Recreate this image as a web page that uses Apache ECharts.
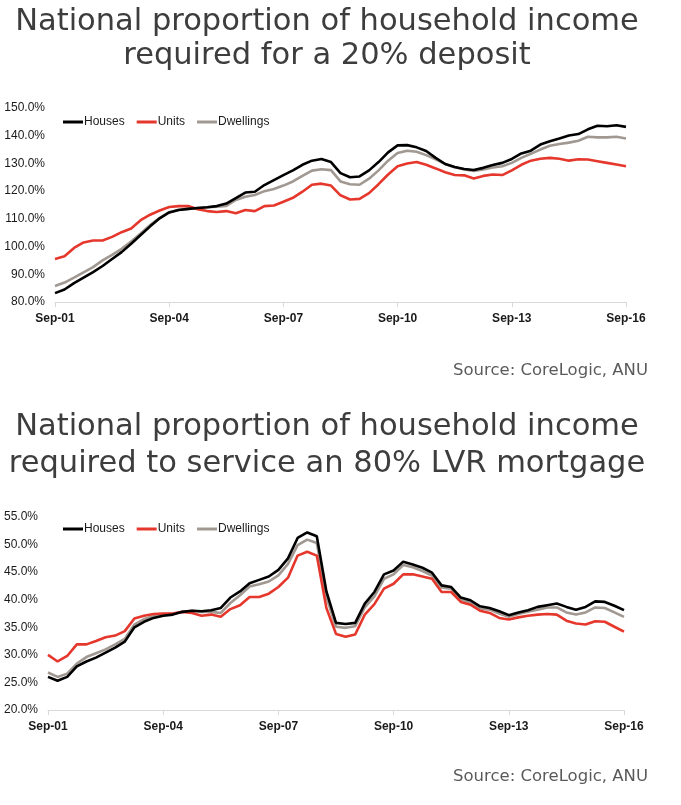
<!DOCTYPE html>
<html><head><meta charset="utf-8">
<script src="https://cdn.jsdelivr.net/npm/echarts@6/dist/echarts.min.js"></script>
<style>html,body{margin:0;padding:0;background:#fff}#c{width:681px;height:805px}</style>
</head><body><div id="c"></div>
<script>
// Quarterly categories Sep-01 .. Sep-16
const quarters = ['Sep','Dec','Mar','Jun'];
const categories = [];
(function(){ let y=1, q=0; for(let i=0;i<61;i++){ categories.push(quarters[q]+'-'+String(y).padStart(2,'0')); q++; if(q===4){q=0;} if(q===2){y++;} } })();

const seriesNames = ['Houses','Units','Dwellings'];

// Chart 1: proportion of household income required for a 20% deposit (%)
const depositHouses = [83.2,84.5,86.8,88.8,90.8,93.0,95.5,98.0,101.0,104.2,107.3,110.2,112.3,113.2,113.6,113.9,114.2,114.6,115.5,117.5,119.5,119.8,122.2,124.0,125.8,127.5,129.5,131.0,131.6,130.5,126.5,125.0,125.3,127.5,130.5,134.0,136.5,136.6,135.8,134.5,132.0,129.8,128.7,128.0,127.6,128.4,129.4,130.2,131.6,133.6,134.6,136.8,138.0,139.0,140.1,140.6,142.3,143.6,143.4,143.8,143.2];
const depositUnits = [95.5,96.5,99.5,101.5,102.2,102.2,103.5,105.2,106.5,109.5,111.5,113.0,114.3,114.6,114.6,113.5,112.8,112.5,112.8,112.0,113.2,112.8,114.6,114.8,116.2,117.6,119.8,122.3,122.7,122.0,118.5,117.0,117.2,119.3,122.5,126.0,129.0,130.0,130.5,129.5,128.2,126.8,125.8,125.7,124.6,125.5,126.0,125.8,127.5,129.5,131.0,131.7,132.0,131.7,131.0,131.5,131.4,130.8,130.2,129.6,129.0];
const depositDwellings = [85.8,87.0,88.8,90.7,92.6,95.0,97.0,99.2,101.8,104.7,107.8,110.4,112.4,113.3,113.6,113.9,114.2,114.4,114.7,116.8,118.0,118.6,120.0,120.8,122.0,123.5,125.5,127.4,127.9,127.6,123.5,122.5,122.3,124.5,127.5,131.0,133.8,134.6,134.2,133.0,131.5,129.8,128.6,127.8,127.3,127.8,128.5,129.0,130.2,132.0,133.5,135.0,136.4,137.0,137.5,138.2,139.6,139.4,139.4,139.6,139.0];

// Chart 2: proportion of household income required to service an 80% LVR mortgage (%)
const mortgageHouses = [26.0,25.3,26.0,27.9,28.8,29.5,30.4,31.3,32.4,35.0,36.0,36.7,37.1,37.3,37.8,38.0,37.9,38.1,38.5,40.4,41.5,43.0,43.6,44.2,45.4,47.5,51.2,52.2,51.5,41.5,35.8,35.6,35.8,39.3,41.4,44.6,45.3,46.9,46.4,45.8,44.9,42.6,42.3,40.4,39.9,38.8,38.5,37.9,37.2,37.7,38.1,38.7,39.0,39.3,38.7,38.2,38.7,39.7,39.6,38.9,38.1];
const mortgageUnits = [30.0,28.8,29.8,31.9,31.9,32.5,33.2,33.5,34.3,36.6,37.1,37.4,37.5,37.5,37.8,37.6,37.1,37.3,36.9,38.3,39.0,40.5,40.5,41.1,42.3,44.0,48.0,48.7,48.0,38.5,33.8,33.3,33.7,37.3,39.2,42.0,42.9,44.6,44.6,44.2,43.8,41.4,41.4,39.6,39.1,38.0,37.6,36.7,36.4,36.8,37.1,37.3,37.4,37.3,36.2,35.7,35.5,36.1,36.0,35.1,34.2];
const mortgageDwellings = [26.8,26.0,26.6,28.4,29.6,30.3,31.0,31.9,32.9,35.5,36.5,37.0,37.2,37.4,37.8,38.0,37.8,37.8,37.6,39.4,40.8,42.4,42.8,43.3,44.4,46.5,49.9,50.9,50.3,40.5,35.1,34.9,35.2,38.6,40.6,43.8,44.6,46.3,45.9,45.2,44.4,42.2,42.0,40.1,39.5,38.4,38.2,37.5,36.9,37.4,37.8,38.2,38.6,38.6,37.7,37.3,37.7,38.6,38.5,37.7,36.9];

const colors = ['#000000','#e5372c','#a09891'];
const title1 = ['National proportion of household income','required for a 20% deposit'];
const title2 = ['National proportion of household income','required to service an 80% LVR mortgage'];
const sourceText = 'Source: CoreLogic, ANU';

const chart = echarts.init(document.getElementById('c'), null, {renderer:'canvas'});
const labelFont = 'Liberation Sans, Arial, sans-serif';
const titleFont = 'DejaVu Sans, sans-serif';

function xAxis(gi){
  return {type:'category', gridIndex:gi, data:categories, boundaryGap:false,
    axisLine:{show:true, lineStyle:{color:'#d9d9d9', width:1}},
    axisTick:{show:true, interval:11, length:5, lineStyle:{color:'#d9d9d9'}},
    axisLabel:{interval:11, margin:11, color:'#1a1a1a', fontSize:12, fontFamily:labelFont, fontWeight:'bold'},
    splitLine:{show:false}};
}
function yAxis(gi,min,max,step){
  return {type:'value', gridIndex:gi, min:min, max:max, interval:step,
    axisLine:{show:false}, axisTick:{show:false}, splitLine:{show:false},
    axisLabel:{margin:10, color:'#1a1a1a', fontSize:12, fontFamily:labelFont, formatter:v=>v.toFixed(1)+'%'}};
}
function line(name, data, gi, ci){
  return {name:name, type:'line', xAxisIndex:gi, yAxisIndex:gi, data:data, symbol:'none', smooth:false,
    lineStyle:{color:colors[ci], width:2.6}, itemStyle:{color:colors[ci]}, z: ci===1?3:(ci===0?4:2), animation:false};
}
function textEl(txt, x, y, size, align, color, weight){
  return {type:'text', x:x, y:y, silent:true,
    style:{text:txt, fontSize:size, fontFamily:titleFont, fontWeight:weight||'normal', fill:color, align:align, verticalAlign:'middle'}};
}
function legend(top){
  return {data:seriesNames, left:63, top:top, padding:0, icon:'rect', itemWidth:20, itemHeight:3, itemGap:12,
    textStyle:{fontSize:12, fontFamily:labelFont, color:'#1a1a1a', padding:[0,0,0,-4]}};
}

chart.setOption({
  animation:false,
  grid:[{left:55, right:55, top:108, height:194},{left:48, right:57, top:517, height:193}],
  xAxis:[xAxis(0), xAxis(1)],
  yAxis:[yAxis(0,80,150,10), yAxis(1,20,55,5)],
  legend:[legend(116), legend(523)],
  series:[
    line(seriesNames[0], depositHouses, 0, 0),
    line(seriesNames[1], depositUnits, 0, 1),
    line(seriesNames[2], depositDwellings, 0, 2),
    line(seriesNames[0], mortgageHouses, 1, 0),
    line(seriesNames[1], mortgageUnits, 1, 1),
    line(seriesNames[2], mortgageDwellings, 1, 2)
  ],
  graphic:[
    textEl(title1[0], 327, 22, 30.5, 'center', '#3d3d3d'),
    textEl(title1[1], 327, 56, 30.5, 'center', '#3d3d3d'),
    textEl(sourceText, 648, 371, 16.5, 'right', '#5a5a5a'),
    textEl(title2[0], 327, 427, 30.5, 'center', '#3d3d3d'),
    textEl(title2[1], 327, 464, 30.5, 'center', '#3d3d3d'),
    textEl(sourceText, 648, 777, 16.5, 'right', '#5a5a5a')
  ]
});
</script></body></html>
